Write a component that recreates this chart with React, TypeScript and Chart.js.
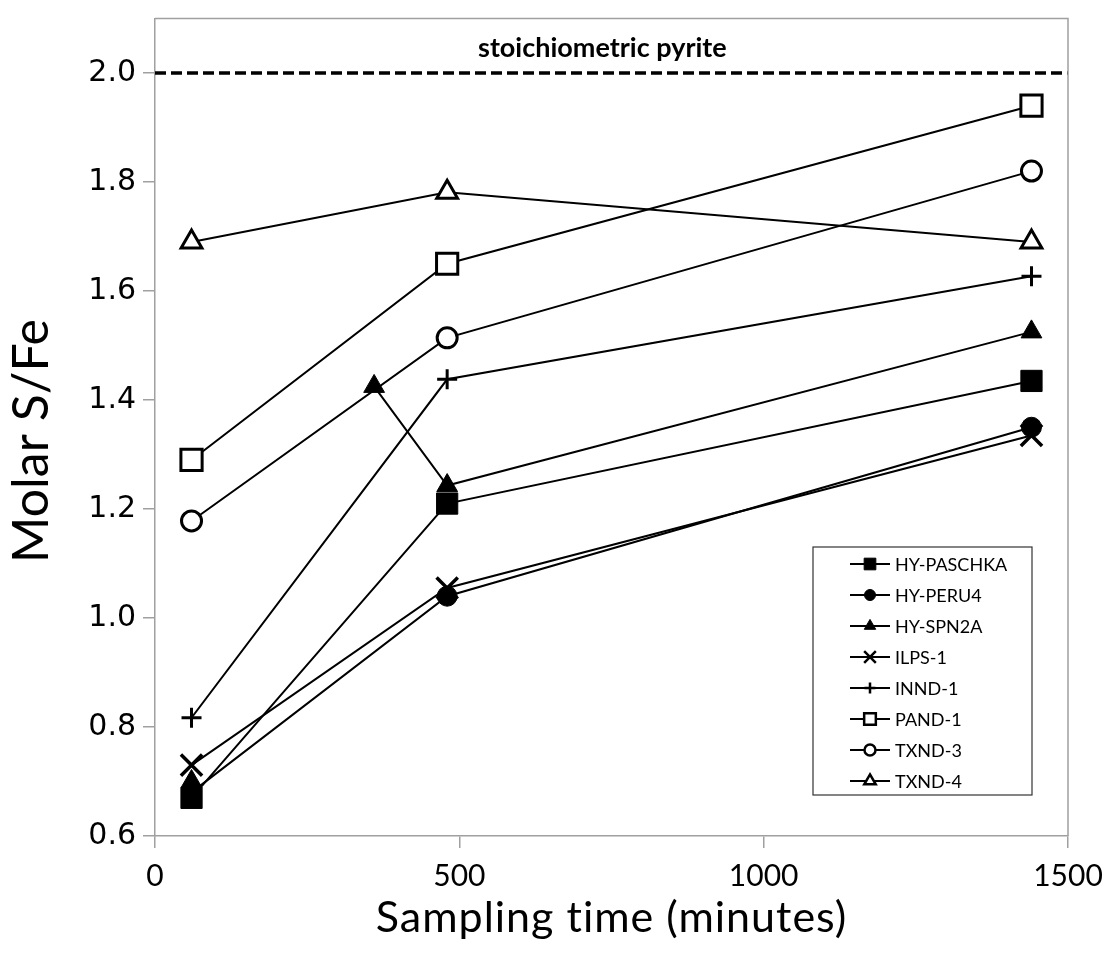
import React, { useEffect, useRef } from "react";
import { Chart, registerables } from "chart.js";
import { drawPoint } from "chart.js/helpers";

Chart.register(...registerables);

const seriesNames = ["HY-PASCHKA", "HY-PERU4", "HY-SPN2A", "ILPS-1", "INND-1", "PAND-1", "TXND-3", "TXND-4"];

const timesStd = [60, 480, 1440];
const timesSpn = [60, 360, 480, 1440];

const hyPaschka = [0.67, 1.21, 1.435];
const hyPeru4 = [0.68, 1.04, 1.35];
const hySpn2a = [0.70, 1.425, 1.243, 1.525];
const ilps1 = [0.73, 1.055, 1.335];
const innd1 = [0.817, 1.438, 1.627];
const pand1 = [1.29, 1.65, 1.94];
const txnd3 = [1.178, 1.514, 1.82];
const txnd4 = [1.69, 1.781, 1.69];

const xTicks = [0, 500, 1000, 1500];
const yTicks = [0.6, 0.8, 1.0, 1.2, 1.4, 1.6, 1.8, 2.0];
const yMin = 0.6;
const yMax = 2.1;
const pyriteValue = 2.0;
const pyriteLabel = "stoichiometric pyrite";
const xTitle = "Sampling time (minutes)";
const yTitle = "Molar S/Fe";

const LATO = "Lato, 'Open Sans', sans-serif";

type Marker = { style: string; fill: string; radius: number; bw: number };
const markers: Marker[] = [
  { style: "rect", fill: "#000", radius: 15, bw: 1 },
  { style: "circle", fill: "#000", radius: 10, bw: 1 },
  { style: "triangle", fill: "#000", radius: 12, bw: 1 },
  { style: "crossRot", fill: "#000", radius: 15, bw: 3.5 },
  { style: "cross", fill: "#000", radius: 10, bw: 3 },
  { style: "rect", fill: "#fff", radius: 15, bw: 3 },
  { style: "circle", fill: "#fff", radius: 10, bw: 3 },
  { style: "triangle", fill: "#fff", radius: 12, bw: 3 },
];

const seriesValues = [hyPaschka, hyPeru4, hySpn2a, ilps1, innd1, pand1, txnd3, txnd4];

function toPoints(times: number[], vals: number[]) {
  return times.map((t, i) => ({ x: t, y: vals[i] }));
}

const frameAndLegend = {
  id: "frameAndLegend",
  afterDraw(chart: any) {
    const { ctx, chartArea } = chart;
    const xs = chart.scales.x;
    const ys = chart.scales.y;
    ctx.save();
    // plot frame (top & right)
    ctx.strokeStyle = "#a0a0a0";
    ctx.lineWidth = 1.5;
    ctx.beginPath();
    ctx.moveTo(chartArea.left, chartArea.top);
    ctx.lineTo(chartArea.right, chartArea.top);
    ctx.lineTo(chartArea.right, chartArea.bottom);
    ctx.stroke();

    // pyrite label
    ctx.fillStyle = "#000";
    ctx.font = `bold 27px ${LATO}`;
    ctx.textAlign = "center";
    ctx.textBaseline = "alphabetic";
    ctx.fillText(pyriteLabel, xs.getPixelForValue(735), ys.getPixelForValue(pyriteValue) - 16);

    // y title
    ctx.save();
    ctx.translate(30, 441);
    ctx.rotate(-Math.PI / 2);
    ctx.font = `50px ${LATO}`;
    ctx.textAlign = "center";
    ctx.textBaseline = "middle";
    ctx.fillText(yTitle, 0, 2);
    ctx.restore();

    // x title
    ctx.font = `43px ${LATO}`;
    try { (ctx as any).letterSpacing = "1px"; } catch (e) {}
    ctx.textAlign = "center";
    ctx.textBaseline = "alphabetic";
    ctx.fillText(xTitle, xs.getPixelForValue(750), 932);
    try { (ctx as any).letterSpacing = "0px"; } catch (e) {}

    // legend box
    const boxW = 219;
    const rowH = 31;
    const boxH = rowH * seriesNames.length;
    const boxRight = chartArea.right - 36;
    const boxBottom = chartArea.bottom - 41;
    const boxLeft = boxRight - boxW;
    const boxTop = boxBottom - boxH;
    ctx.fillStyle = "#fff";
    ctx.fillRect(boxLeft, boxTop, boxW, boxH);
    ctx.strokeStyle = "#333";
    ctx.lineWidth = 1.2;
    ctx.strokeRect(boxLeft, boxTop, boxW, boxH);

    ctx.font = `18px ${LATO}`;
    ctx.textAlign = "left";
    ctx.textBaseline = "middle";
    seriesNames.forEach((name, i) => {
      const cy = boxTop + 17 + i * rowH;
      const lx0 = boxLeft + 37;
      const lx1 = boxLeft + 77;
      ctx.strokeStyle = "#000";
      ctx.lineWidth = 2;
      ctx.beginPath();
      ctx.moveTo(lx0, cy);
      ctx.lineTo(lx1, cy);
      ctx.stroke();
      const m = markers[i];
      ctx.fillStyle = m.fill;
      ctx.strokeStyle = "#000";
      ctx.lineWidth = Math.min(m.bw, 2.5);
      drawPoint(ctx, { pointStyle: m.style, radius: m.radius * 0.55, rotation: 0, borderWidth: Math.min(m.bw, 2.5) } as any, (lx0 + lx1) / 2, cy);
      ctx.fillStyle = "#000";
      ctx.fillText(name, boxLeft + 82, cy + 1);
    });
    ctx.restore();
  },
};

export default function App() {
  const canvasRef = useRef<HTMLCanvasElement | null>(null);

  useEffect(() => {
    const canvas = canvasRef.current;
    if (!canvas) return;

    const datasets: any[] = seriesNames.map((name, i) => {
      const m = markers[i];
      const times = name === "HY-SPN2A" ? timesSpn : timesStd;
      const ds: any = {
        label: name,
        data: toPoints(times, seriesValues[i]),
        showLine: true,
        borderColor: "#000",
        borderWidth: 2,
        pointStyle: m.style,
        pointRadius: m.radius,
        pointHoverRadius: m.radius,
        pointBackgroundColor: m.fill,
        pointBorderColor: "#000",
        pointBorderWidth: m.bw,
        order: i,
      };
      if (name === "HY-SPN2A") {
        ds.segment = {
          borderColor: (c: any) => (c.p0DataIndex === 0 ? "rgba(0,0,0,0)" : undefined),
        };
      }
      return ds;
    });

    datasets.push({
      label: "pyrite",
      data: [
        { x: xTicks[0], y: pyriteValue },
        { x: xTicks[xTicks.length - 1], y: pyriteValue },
      ],
      showLine: true,
      borderColor: "#000",
      borderWidth: 3.5,
      borderDash: [11, 5],
      pointRadius: 0,
      order: 20,
    });

    const chart = new Chart(canvas, {
      type: "scatter",
      data: { datasets },
      options: {
        animation: false,
        responsive: false,
        maintainAspectRatio: false,
        layout: { padding: { left: 0, right: 41, top: 13, bottom: 0 } },
        plugins: {
          legend: { display: false },
          tooltip: { enabled: false },
        },
        scales: {
          x: {
            type: "linear",
            min: 0,
            max: 1500,
            afterBuildTicks: (s: any) => {
              s.ticks = xTicks.map((v) => ({ value: v }));
            },
            afterFit: (s: any) => {
              s.height = 128;
              s.paddingLeft = 0;
              s.paddingRight = 0;
            },
            grid: { drawOnChartArea: false, drawTicks: true, tickLength: 12, color: "#a0a0a0", lineWidth: 1.5 },
            border: { display: true, color: "#a0a0a0", width: 1.5 },
            ticks: {
              padding: 10,
              color: "#000",
              font: { family: LATO, size: 30 },
              callback: (v: any) => String(v),
            },
            title: { display: false },
          },
          y: {
            type: "linear",
            min: yMin,
            max: yMax,
            afterBuildTicks: (s: any) => {
              s.ticks = yTicks.map((v) => ({ value: v }));
            },
            afterFit: (s: any) => {
              s.width = 155;
              s.paddingTop = 0;
              s.paddingBottom = 0;
            },
            grid: { drawOnChartArea: false, drawTicks: true, tickLength: 12, color: "#a0a0a0", lineWidth: 1.5 },
            border: { display: true, color: "#a0a0a0", width: 1.5 },
            ticks: {
              padding: 7,
              color: "#000",
              font: { family: "'DejaVu Sans', Verdana, sans-serif", size: 30, lineHeight: 0.8 },
              callback: (v: any) => Number(v).toFixed(1),
            },
            title: { display: false },
          },
        },
      },
      plugins: [frameAndLegend],
    });

    return () => chart.destroy();
  }, []);

  return (
    <div style={{ position: "absolute", left: 0, top: 0, width: 1109, height: 964, background: "#fff" }}>
      <canvas ref={canvasRef} width={1109} height={964} style={{ width: 1109, height: 964, display: "block" }} />
    </div>
  );
}
